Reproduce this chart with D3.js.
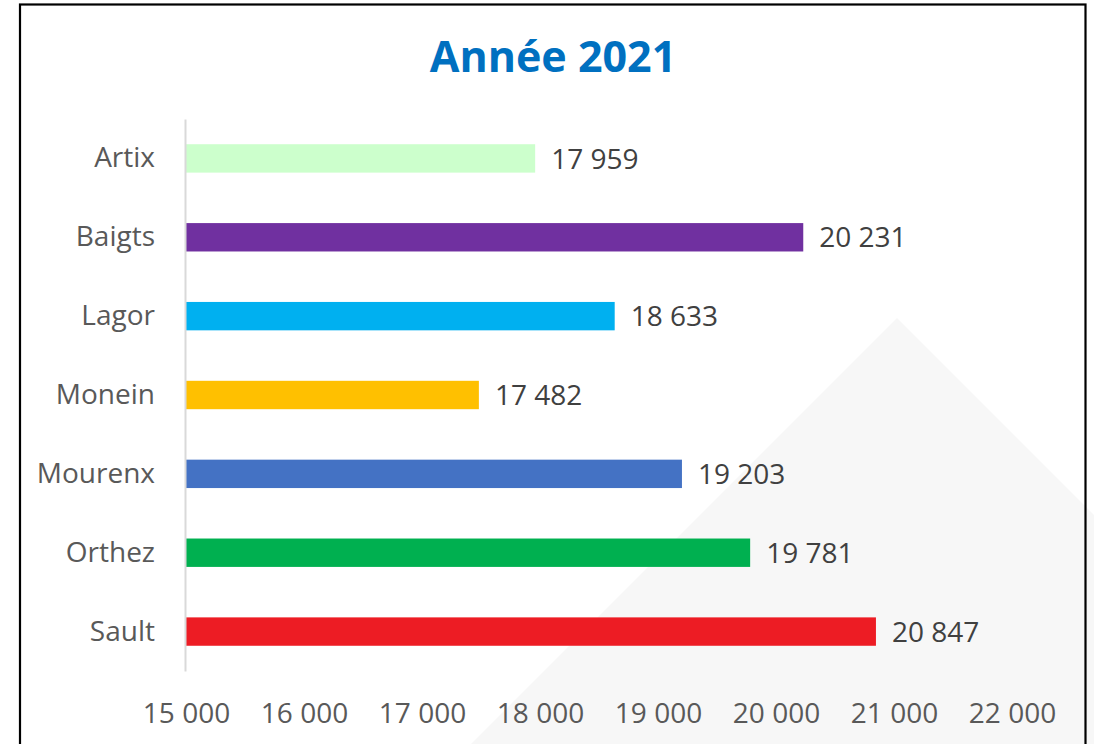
<!DOCTYPE html>
<html>
<head>
<meta charset="utf-8">
<script src="https://cdn.jsdelivr.net/npm/d3@7"></script>
<style>
  html, body { margin: 0; padding: 0; background: #fff; }
  svg { display: block; font-family: "Open Sans", sans-serif; }
</style>
</head>
<body>
<div id="bar_chart"></div>
<script>
var chartTitle = "Année 2021";
var communes = ["Artix", "Baigts", "Lagor", "Monein", "Mourenx", "Orthez", "Sault"];
var habitants = [17959, 20231, 18633, 17482, 19203, 19781, 20847];
var barColors = ["#CCFFCC", "#7030A0", "#00B0F0", "#FFC000", "#4472C4", "#00B050", "#ED1C24"];
var tickValues = [15000, 16000, 17000, 18000, 19000, 20000, 21000, 22000];

var width = 1094, height = 744;

var frLocale = d3.formatLocale({decimal: ",", thousands: " ", grouping: [3], currency: ["", " €"]});
var fmt = frLocale.format(",d");

var svg = d3.select("#bar_chart").append("svg")
    .attr("width", width)
    .attr("height", height);

// faint watermark triangle in the background
var apex = [897, 318];
svg.append("polygon")
    .attr("points", [[apex[0], apex[1]], [apex[0] + 440, apex[1] + 440], [apex[0] - 440, apex[1] + 440]].join(" "))
    .attr("fill", "#F7F7F7");

// frame
svg.append("rect")
    .attr("x", 20)
    .attr("y", 4.5)
    .attr("width", 1065.5)
    .attr("height", 760)
    .attr("fill", "none")
    .attr("stroke", "#000")
    .attr("stroke-width", 2.2);

svg.append("text")
    .attr("x", 553)
    .attr("y", 72)
    .attr("text-anchor", "middle")
    .attr("font-size", 43)
    .attr("font-weight", "bold")
    .attr("fill", "#0070C0")
    .text(chartTitle);

var x = d3.scaleLinear()
    .domain([tickValues[0], tickValues[tickValues.length - 1]])
    .range([186, 1012]);

var y = d3.scaleBand()
    .domain(communes)
    .range([119, 671])
    .paddingInner(0.64)
    .paddingOuter(0.32);

var data = communes.map(function(name, i) {
    return {name: name, value: habitants[i], color: barColors[i]};
});

svg.selectAll("rect.bar")
    .data(data)
    .enter().append("rect")
        .attr("class", "bar")
        .attr("x", x(tickValues[0]))
        .attr("y", function(d) { return y(d.name); })
        .attr("width", function(d) { return x(d.value) - x(tickValues[0]); })
        .attr("height", y.bandwidth())
        .attr("fill", function(d) { return d.color; });

svg.selectAll("text.value")
    .data(data)
    .enter().append("text")
        .attr("class", "value")
        .attr("x", function(d) { return x(d.value) + 16; })
        .attr("y", function(d) { return y(d.name) + y.bandwidth() / 2; })
        .attr("dy", "0.36em")
        .attr("font-size", 28)
        .attr("fill", "#404040")
        .text(function(d) { return fmt(d.value); });

// category axis
var yAxis = svg.append("g")
    .attr("transform", "translate(185,0)")
    .call(d3.axisLeft(y).tickSize(0).tickPadding(30));
yAxis.select(".domain").attr("stroke", "#D9D9D9").attr("stroke-width", 2);
yAxis.selectAll("text")
    .attr("font-size", 28)
    .attr("font-family", "'Open Sans', sans-serif")
    .attr("fill", "#595959");

// value axis (labels only)
var xAxis = svg.append("g")
    .attr("transform", "translate(0,671)")
    .call(d3.axisBottom(x).tickValues(tickValues).tickFormat(fmt).tickSize(0).tickPadding(32));
xAxis.select(".domain").remove();
xAxis.selectAll("text")
    .attr("font-size", 28)
    .attr("font-family", "'Open Sans', sans-serif")
    .attr("fill", "#595959");
</script>
</body>
</html>
